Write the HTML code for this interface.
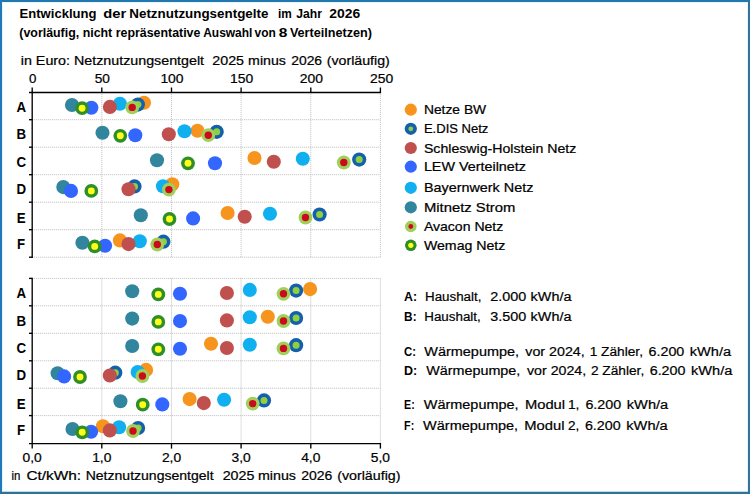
<!DOCTYPE html>
<html lang="de"><head><meta charset="utf-8"><title>Entwicklung der Netznutzungsentgelte im Jahr 2026</title>
<style>
html,body{margin:0;padding:0;background:#fff;}
body{width:750px;height:494px;overflow:hidden;font-family:"Liberation Sans",sans-serif;}
svg{display:block;}
text{font-family:"Liberation Sans",sans-serif;}
</style></head><body>
<svg width="750" height="494" viewBox="0 0 750 494">
<rect x="0" y="0" width="750" height="494" fill="#2a76ad"/>
<rect x="0" y="0" width="750" height="2" fill="#2277ae"/>
<rect x="0" y="0" width="2" height="494" fill="#2178ba"/>
<rect x="748" y="0" width="2" height="494" fill="#33729c"/>
<rect x="0" y="491.8" width="750" height="2.2" fill="#2e7394"/>
<rect x="2" y="2" width="746" height="489.8" fill="#e4f6ff"/>
<rect x="3" y="3" width="744" height="487.8" fill="#ffffff"/>
<g stroke="#bcbcbc" stroke-width="1" stroke-dasharray="1 1" fill="none">
<line x1="101.8" y1="92.2" x2="101.8" y2="257.2"/>
<line x1="171.5" y1="92.2" x2="171.5" y2="257.2"/>
<line x1="241.1" y1="92.2" x2="241.1" y2="257.2"/>
<line x1="310.8" y1="92.2" x2="310.8" y2="257.2"/>
<line x1="380.4" y1="92.2" x2="380.4" y2="257.2"/>
<line x1="32.2" y1="119.7" x2="380.4" y2="119.7"/>
<line x1="32.2" y1="147.2" x2="380.4" y2="147.2"/>
<line x1="32.2" y1="174.7" x2="380.4" y2="174.7"/>
<line x1="32.2" y1="202.2" x2="380.4" y2="202.2"/>
<line x1="32.2" y1="229.7" x2="380.4" y2="229.7"/>
<line x1="32.2" y1="257.2" x2="380.4" y2="257.2"/>
<line x1="101.8" y1="278.4" x2="101.8" y2="443.1"/>
<line x1="171.5" y1="278.4" x2="171.5" y2="443.1"/>
<line x1="241.1" y1="278.4" x2="241.1" y2="443.1"/>
<line x1="310.8" y1="278.4" x2="310.8" y2="443.1"/>
<line x1="380.4" y1="278.4" x2="380.4" y2="443.1"/>
<line x1="32.2" y1="278.4" x2="380.4" y2="278.4"/>
<line x1="32.2" y1="305.8" x2="380.4" y2="305.8"/>
<line x1="32.2" y1="333.3" x2="380.4" y2="333.3"/>
<line x1="32.2" y1="360.8" x2="380.4" y2="360.8"/>
<line x1="32.2" y1="388.2" x2="380.4" y2="388.2"/>
<line x1="32.2" y1="415.6" x2="380.4" y2="415.6"/>
</g>
<g stroke="#000" stroke-width="1.35" fill="none">
<line x1="32.2" y1="87.5" x2="32.2" y2="257.9"/>
<line x1="29.000000000000004" y1="92.5" x2="381.1" y2="92.5"/>
<line x1="101.8" y1="87.5" x2="101.8" y2="92.5"/>
<line x1="171.5" y1="87.5" x2="171.5" y2="92.5"/>
<line x1="241.1" y1="87.5" x2="241.1" y2="92.5"/>
<line x1="310.8" y1="87.5" x2="310.8" y2="92.5"/>
<line x1="380.4" y1="87.5" x2="380.4" y2="92.5"/>
<line x1="29.000000000000004" y1="119.7" x2="32.2" y2="119.7"/>
<line x1="29.000000000000004" y1="147.2" x2="32.2" y2="147.2"/>
<line x1="29.000000000000004" y1="174.7" x2="32.2" y2="174.7"/>
<line x1="29.000000000000004" y1="202.2" x2="32.2" y2="202.2"/>
<line x1="29.000000000000004" y1="229.7" x2="32.2" y2="229.7"/>
<line x1="29.000000000000004" y1="257.2" x2="32.2" y2="257.2"/>
<line x1="32.2" y1="277.7" x2="32.2" y2="448.6"/>
<line x1="29.000000000000004" y1="443.6" x2="381.1" y2="443.6"/>
<line x1="101.8" y1="443.6" x2="101.8" y2="448.6"/>
<line x1="171.5" y1="443.6" x2="171.5" y2="448.6"/>
<line x1="241.1" y1="443.6" x2="241.1" y2="448.6"/>
<line x1="310.8" y1="443.6" x2="310.8" y2="448.6"/>
<line x1="380.4" y1="443.6" x2="380.4" y2="448.6"/>
<line x1="29.000000000000004" y1="278.4" x2="32.2" y2="278.4"/>
<line x1="29.000000000000004" y1="305.8" x2="32.2" y2="305.8"/>
<line x1="29.000000000000004" y1="333.3" x2="32.2" y2="333.3"/>
<line x1="29.000000000000004" y1="360.8" x2="32.2" y2="360.8"/>
<line x1="29.000000000000004" y1="388.2" x2="32.2" y2="388.2"/>
<line x1="29.000000000000004" y1="415.6" x2="32.2" y2="415.6"/>
</g>
<g>
<circle cx="144" cy="102.8" r="7.05" fill="#f7941e"/>
<circle cx="137.9" cy="104.6" r="7.10" fill="#1560ac"/><circle cx="137.9" cy="104.6" r="3.50" fill="#8fd040"/>
<circle cx="119.9" cy="103.8" r="7.05" fill="#10b0f0"/>
<circle cx="109.9" cy="106.9" r="7.05" fill="#c0504d"/>
<circle cx="72" cy="105" r="7.05" fill="#31859c"/>
<circle cx="91.4" cy="107.7" r="7.05" fill="#3366ff"/>
<circle cx="132.2" cy="107.4" r="6.90" fill="#9fd05a"/><circle cx="132.2" cy="107.4" r="3.70" fill="#cc0a1e"/>
<circle cx="82.1" cy="108.2" r="6.90" fill="#2e8f28"/><circle cx="82.1" cy="108.2" r="3.45" fill="#ffff1a"/>
<circle cx="197.5" cy="130.8" r="7.05" fill="#f7941e"/>
<circle cx="216.7" cy="131.8" r="7.10" fill="#1560ac"/><circle cx="216.7" cy="131.8" r="3.50" fill="#8fd040"/>
<circle cx="184.5" cy="131.3" r="7.05" fill="#10b0f0"/>
<circle cx="168.8" cy="134.3" r="7.05" fill="#c0504d"/>
<circle cx="102.5" cy="132.7" r="7.05" fill="#31859c"/>
<circle cx="135.3" cy="135.2" r="7.05" fill="#3366ff"/>
<circle cx="208.3" cy="135.2" r="6.90" fill="#9fd05a"/><circle cx="208.3" cy="135.2" r="3.70" fill="#cc0a1e"/>
<circle cx="120.3" cy="135.8" r="6.90" fill="#2e8f28"/><circle cx="120.3" cy="135.8" r="3.45" fill="#ffff1a"/>
<circle cx="254.5" cy="158" r="7.05" fill="#f7941e"/>
<circle cx="359.2" cy="159.6" r="7.10" fill="#1560ac"/><circle cx="359.2" cy="159.6" r="3.50" fill="#8fd040"/>
<circle cx="302.8" cy="158.8" r="7.05" fill="#10b0f0"/>
<circle cx="273.8" cy="161.7" r="7.05" fill="#c0504d"/>
<circle cx="157" cy="160.2" r="7.05" fill="#31859c"/>
<circle cx="215" cy="163.3" r="7.05" fill="#3366ff"/>
<circle cx="343.8" cy="162.5" r="6.90" fill="#9fd05a"/><circle cx="343.8" cy="162.5" r="3.70" fill="#cc0a1e"/>
<circle cx="188" cy="163.3" r="6.90" fill="#2e8f28"/><circle cx="188" cy="163.3" r="3.45" fill="#ffff1a"/>
<circle cx="172.3" cy="184.3" r="7.05" fill="#f7941e"/>
<circle cx="134.5" cy="186.4" r="7.10" fill="#1560ac"/><circle cx="134.5" cy="186.4" r="3.50" fill="#8fd040"/>
<circle cx="163" cy="186.2" r="7.05" fill="#10b0f0"/>
<circle cx="128.5" cy="189.2" r="7.05" fill="#c0504d"/>
<circle cx="63.3" cy="187.1" r="7.05" fill="#31859c"/>
<circle cx="71" cy="190.9" r="7.05" fill="#3366ff"/>
<circle cx="168.9" cy="189.6" r="6.90" fill="#9fd05a"/><circle cx="168.9" cy="189.6" r="3.70" fill="#cc0a1e"/>
<circle cx="91.3" cy="190.9" r="6.90" fill="#2e8f28"/><circle cx="91.3" cy="190.9" r="3.45" fill="#ffff1a"/>
<circle cx="227.6" cy="213" r="7.05" fill="#f7941e"/>
<circle cx="319.6" cy="214.5" r="7.10" fill="#1560ac"/><circle cx="319.6" cy="214.5" r="3.50" fill="#8fd040"/>
<circle cx="270" cy="213.7" r="7.05" fill="#10b0f0"/>
<circle cx="244.7" cy="216.7" r="7.05" fill="#c0504d"/>
<circle cx="140.8" cy="215.3" r="7.05" fill="#31859c"/>
<circle cx="193.1" cy="218.4" r="7.05" fill="#3366ff"/>
<circle cx="305.5" cy="217.5" r="6.90" fill="#9fd05a"/><circle cx="305.5" cy="217.5" r="3.70" fill="#cc0a1e"/>
<circle cx="169.5" cy="219" r="6.90" fill="#2e8f28"/><circle cx="169.5" cy="219" r="3.45" fill="#ffff1a"/>
<circle cx="119.9" cy="240.4" r="7.05" fill="#f7941e"/>
<circle cx="163.4" cy="241.7" r="7.10" fill="#1560ac"/><circle cx="163.4" cy="241.7" r="3.50" fill="#8fd040"/>
<circle cx="139.8" cy="241.3" r="7.05" fill="#10b0f0"/>
<circle cx="128.5" cy="244.1" r="7.05" fill="#c0504d"/>
<circle cx="82.4" cy="242.7" r="7.05" fill="#31859c"/>
<circle cx="105.1" cy="245.8" r="7.05" fill="#3366ff"/>
<circle cx="157.3" cy="244.5" r="6.90" fill="#9fd05a"/><circle cx="157.3" cy="244.5" r="3.70" fill="#cc0a1e"/>
<circle cx="94.7" cy="246.4" r="6.90" fill="#2e8f28"/><circle cx="94.7" cy="246.4" r="3.45" fill="#ffff1a"/>
<circle cx="310.1" cy="289.1" r="7.05" fill="#f7941e"/>
<circle cx="296.1" cy="290.6" r="7.10" fill="#1560ac"/><circle cx="296.1" cy="290.6" r="3.50" fill="#8fd040"/>
<circle cx="249.8" cy="289.9" r="7.05" fill="#10b0f0"/>
<circle cx="226.9" cy="293" r="7.05" fill="#c0504d"/>
<circle cx="132.2" cy="291.2" r="7.05" fill="#31859c"/>
<circle cx="180" cy="293.8" r="7.05" fill="#3366ff"/>
<circle cx="283.5" cy="293.8" r="6.90" fill="#9fd05a"/><circle cx="283.5" cy="293.8" r="3.70" fill="#cc0a1e"/>
<circle cx="158.3" cy="294.4" r="6.90" fill="#2e8f28"/><circle cx="158.3" cy="294.4" r="3.45" fill="#ffff1a"/>
<circle cx="267.8" cy="316.7" r="7.05" fill="#f7941e"/>
<circle cx="296.1" cy="318" r="7.10" fill="#1560ac"/><circle cx="296.1" cy="318" r="3.50" fill="#8fd040"/>
<circle cx="249.8" cy="317.3" r="7.05" fill="#10b0f0"/>
<circle cx="226.9" cy="320.4" r="7.05" fill="#c0504d"/>
<circle cx="132.2" cy="318.6" r="7.05" fill="#31859c"/>
<circle cx="180" cy="321.1" r="7.05" fill="#3366ff"/>
<circle cx="283.5" cy="321" r="6.90" fill="#9fd05a"/><circle cx="283.5" cy="321" r="3.70" fill="#cc0a1e"/>
<circle cx="158.3" cy="321.9" r="6.90" fill="#2e8f28"/><circle cx="158.3" cy="321.9" r="3.45" fill="#ffff1a"/>
<circle cx="211" cy="343.7" r="7.05" fill="#f7941e"/>
<circle cx="296.1" cy="345.2" r="7.10" fill="#1560ac"/><circle cx="296.1" cy="345.2" r="3.50" fill="#8fd040"/>
<circle cx="249.8" cy="344.7" r="7.05" fill="#10b0f0"/>
<circle cx="226.9" cy="348" r="7.05" fill="#c0504d"/>
<circle cx="132.2" cy="346" r="7.05" fill="#31859c"/>
<circle cx="180" cy="348.8" r="7.05" fill="#3366ff"/>
<circle cx="283.5" cy="348.4" r="6.90" fill="#9fd05a"/><circle cx="283.5" cy="348.4" r="3.70" fill="#cc0a1e"/>
<circle cx="158.3" cy="349.3" r="6.90" fill="#2e8f28"/><circle cx="158.3" cy="349.3" r="3.45" fill="#ffff1a"/>
<circle cx="146.1" cy="369.9" r="7.05" fill="#f7941e"/>
<circle cx="115.3" cy="372.7" r="7.10" fill="#1560ac"/><circle cx="115.3" cy="372.7" r="3.50" fill="#8fd040"/>
<circle cx="137.7" cy="372.1" r="7.05" fill="#10b0f0"/>
<circle cx="109.8" cy="375.5" r="7.05" fill="#c0504d"/>
<circle cx="57.6" cy="373.3" r="7.05" fill="#31859c"/>
<circle cx="64.1" cy="376.4" r="7.05" fill="#3366ff"/>
<circle cx="142.4" cy="376" r="6.90" fill="#9fd05a"/><circle cx="142.4" cy="376" r="3.70" fill="#cc0a1e"/>
<circle cx="80" cy="377" r="6.90" fill="#2e8f28"/><circle cx="80" cy="377" r="3.45" fill="#ffff1a"/>
<circle cx="189.6" cy="399.1" r="7.05" fill="#f7941e"/>
<circle cx="264" cy="400.4" r="7.10" fill="#1560ac"/><circle cx="264" cy="400.4" r="3.50" fill="#8fd040"/>
<circle cx="224.1" cy="399.7" r="7.05" fill="#10b0f0"/>
<circle cx="203.8" cy="403.1" r="7.05" fill="#c0504d"/>
<circle cx="120.4" cy="401.2" r="7.05" fill="#31859c"/>
<circle cx="162.3" cy="404.4" r="7.05" fill="#3366ff"/>
<circle cx="252.7" cy="403.6" r="6.90" fill="#9fd05a"/><circle cx="252.7" cy="403.6" r="3.70" fill="#cc0a1e"/>
<circle cx="142.7" cy="404.7" r="6.90" fill="#2e8f28"/><circle cx="142.7" cy="404.7" r="3.45" fill="#ffff1a"/>
<circle cx="102.9" cy="426.2" r="7.05" fill="#f7941e"/>
<circle cx="138.1" cy="428" r="7.10" fill="#1560ac"/><circle cx="138.1" cy="428" r="3.50" fill="#8fd040"/>
<circle cx="119.1" cy="427.3" r="7.05" fill="#10b0f0"/>
<circle cx="109.8" cy="430.4" r="7.05" fill="#c0504d"/>
<circle cx="72.5" cy="429" r="7.05" fill="#31859c"/>
<circle cx="91.1" cy="431.8" r="7.05" fill="#3366ff"/>
<circle cx="133" cy="431" r="6.90" fill="#9fd05a"/><circle cx="133" cy="431" r="3.70" fill="#cc0a1e"/>
<circle cx="82.2" cy="432.3" r="6.90" fill="#2e8f28"/><circle cx="82.2" cy="432.3" r="3.45" fill="#ffff1a"/>
</g>
<circle cx="410.8" cy="109.7" r="6.1" fill="#f7941e"/>
<circle cx="410.8" cy="128.8" r="6.1" fill="#1560ac"/><circle cx="410.8" cy="128.8" r="2.4" fill="#8fd040"/>
<circle cx="410.8" cy="148" r="6.1" fill="#c0504d"/>
<circle cx="410.8" cy="166.7" r="6.1" fill="#3366ff"/>
<circle cx="410.8" cy="187.8" r="6.1" fill="#10b0f0"/>
<circle cx="410.8" cy="207.3" r="6.1" fill="#31859c"/>
<circle cx="410.8" cy="226.5" r="5.8" fill="#9fd05a"/><circle cx="410.8" cy="226.5" r="2.4" fill="#cc0a1e"/>
<circle cx="410.8" cy="245.3" r="5.8" fill="#2e8f28"/><circle cx="410.8" cy="245.3" r="2.6" fill="#ffff1a"/>
<g font-family="'Liberation Sans', sans-serif" fill="#000">
<text x="423.9" y="114.2" font-size="12.9" stroke="#000" stroke-width="0.22" textLength="62.3" lengthAdjust="spacingAndGlyphs">Netze BW</text>
<text x="423.9" y="133.4" font-size="12.9" stroke="#000" stroke-width="0.22" textLength="64.5" lengthAdjust="spacingAndGlyphs">E.DIS Netz</text>
<text x="423.9" y="152.6" font-size="12.9" stroke="#000" stroke-width="0.22" textLength="152.4" lengthAdjust="spacingAndGlyphs">Schleswig-Holstein Netz</text>
<text x="423.9" y="171.2" font-size="12.9" stroke="#000" stroke-width="0.22" textLength="102.1" lengthAdjust="spacingAndGlyphs">LEW Verteilnetz</text>
<text x="423.9" y="192.3" font-size="12.9" stroke="#000" stroke-width="0.22" textLength="109.5" lengthAdjust="spacingAndGlyphs">Bayernwerk Netz</text>
<text x="423.9" y="211.7" font-size="12.9" stroke="#000" stroke-width="0.22" textLength="91.5" lengthAdjust="spacingAndGlyphs">Mitnetz Strom</text>
<text x="423.9" y="230.7" font-size="12.9" stroke="#000" stroke-width="0.22" textLength="79.4" lengthAdjust="spacingAndGlyphs">Avacon Netz</text>
<text x="423.9" y="249.5" font-size="12.9" stroke="#000" stroke-width="0.22" textLength="81.5" lengthAdjust="spacingAndGlyphs">Wemag Netz</text>
<text x="19.6" y="18.3" font-size="13.5" font-weight="bold" textLength="76.9" lengthAdjust="spacingAndGlyphs">Entwicklung</text>
<text x="103.3" y="18.3" font-size="13.5" font-weight="bold" textLength="23.0" lengthAdjust="spacingAndGlyphs">der</text>
<text x="129.3" y="18.3" font-size="13.5" font-weight="bold" textLength="139.1" lengthAdjust="spacingAndGlyphs">Netznutzungsentgelte</text>
<text x="278.0" y="18.3" font-size="13.5" font-weight="bold" textLength="13.8" lengthAdjust="spacingAndGlyphs">im</text>
<text x="296.3" y="18.3" font-size="13.5" font-weight="bold" textLength="25.7" lengthAdjust="spacingAndGlyphs">Jahr</text>
<text x="329.2" y="18.3" font-size="13.5" font-weight="bold" textLength="31.0" lengthAdjust="spacingAndGlyphs">2026</text>
<text x="19.3" y="37.3" font-size="12.5" font-weight="bold" textLength="181.1" lengthAdjust="spacingAndGlyphs">(vorläufig, nicht repräsentative</text>
<text x="203.2" y="37.3" font-size="12.5" font-weight="bold" textLength="49.2" lengthAdjust="spacingAndGlyphs">Auswahl</text>
<text x="254.5" y="37.3" font-size="12.5" font-weight="bold" textLength="21.3" lengthAdjust="spacingAndGlyphs">von</text>
<text x="278.8" y="37.3" font-size="12.5" font-weight="bold" textLength="8.6" lengthAdjust="spacingAndGlyphs">8</text>
<text x="289.9" y="37.3" font-size="12.5" font-weight="bold" textLength="82.0" lengthAdjust="spacingAndGlyphs">Verteilnetzen)</text>
<text x="20.8" y="64.6" font-size="12.8" stroke="#000" stroke-width="0.22" textLength="183.3" lengthAdjust="spacingAndGlyphs">in Euro: Netznutzungsentgelt</text>
<text x="212.3" y="64.6" font-size="12.8" stroke="#000" stroke-width="0.22" textLength="31.7" lengthAdjust="spacingAndGlyphs">2025</text>
<text x="248.1" y="64.6" font-size="12.8" stroke="#000" stroke-width="0.22" textLength="37.8" lengthAdjust="spacingAndGlyphs">minus</text>
<text x="291.2" y="64.6" font-size="12.8" stroke="#000" stroke-width="0.22" textLength="30.9" lengthAdjust="spacingAndGlyphs">2026</text>
<text x="326.8" y="64.6" font-size="12.8" stroke="#000" stroke-width="0.22" textLength="63.0" lengthAdjust="spacingAndGlyphs">(vorläufig)</text>
<text x="29.0" y="83.4" font-size="13.1" stroke="#000" stroke-width="0.22" textLength="7.4" lengthAdjust="spacingAndGlyphs">0</text>
<text x="94.7" y="83.4" font-size="13.1" stroke="#000" stroke-width="0.22" textLength="15.2" lengthAdjust="spacingAndGlyphs">50</text>
<text x="160.4" y="83.4" font-size="13.1" stroke="#000" stroke-width="0.22" textLength="23.2" lengthAdjust="spacingAndGlyphs">100</text>
<text x="230.0" y="83.4" font-size="13.1" stroke="#000" stroke-width="0.22" textLength="23.2" lengthAdjust="spacingAndGlyphs">150</text>
<text x="299.7" y="83.4" font-size="13.1" stroke="#000" stroke-width="0.22" textLength="23.2" lengthAdjust="spacingAndGlyphs">200</text>
<text x="370.1" y="83.4" font-size="13.1" stroke="#000" stroke-width="0.22" textLength="23.2" lengthAdjust="spacingAndGlyphs">250</text>
<text x="22.6" y="462.1" font-size="13.4" stroke="#000" stroke-width="0.22" textLength="19.2" lengthAdjust="spacingAndGlyphs">0,0</text>
<text x="92.2" y="462.1" font-size="13.4" stroke="#000" stroke-width="0.22" textLength="19.2" lengthAdjust="spacingAndGlyphs">1,0</text>
<text x="161.9" y="462.1" font-size="13.4" stroke="#000" stroke-width="0.22" textLength="19.2" lengthAdjust="spacingAndGlyphs">2,0</text>
<text x="231.5" y="462.1" font-size="13.4" stroke="#000" stroke-width="0.22" textLength="19.2" lengthAdjust="spacingAndGlyphs">3,0</text>
<text x="301.2" y="462.1" font-size="13.4" stroke="#000" stroke-width="0.22" textLength="19.2" lengthAdjust="spacingAndGlyphs">4,0</text>
<text x="370.8" y="462.1" font-size="13.4" stroke="#000" stroke-width="0.22" textLength="19.2" lengthAdjust="spacingAndGlyphs">5,0</text>
<text x="11.5" y="479.8" font-size="12.8" stroke="#000" stroke-width="0.22" textLength="8.9" lengthAdjust="spacingAndGlyphs">in</text>
<text x="26.4" y="479.8" font-size="12.8" stroke="#000" stroke-width="0.22" textLength="54.7" lengthAdjust="spacingAndGlyphs">Ct/kWh:</text>
<text x="85.7" y="479.8" font-size="12.8" stroke="#000" stroke-width="0.22" textLength="127.9" lengthAdjust="spacingAndGlyphs">Netznutzungsentgelt</text>
<text x="222.7" y="479.8" font-size="12.8" stroke="#000" stroke-width="0.22" textLength="31.7" lengthAdjust="spacingAndGlyphs">2025</text>
<text x="258.0" y="479.8" font-size="12.8" stroke="#000" stroke-width="0.22" textLength="38.0" lengthAdjust="spacingAndGlyphs">minus</text>
<text x="301.2" y="479.8" font-size="12.8" stroke="#000" stroke-width="0.22" textLength="31.2" lengthAdjust="spacingAndGlyphs">2026</text>
<text x="337.2" y="479.8" font-size="12.8" stroke="#000" stroke-width="0.22" textLength="63.3" lengthAdjust="spacingAndGlyphs">(vorläufig)</text>
<text x="16.4" y="111.5" font-size="14.3" font-weight="bold" textLength="9.6" lengthAdjust="spacingAndGlyphs">A</text>
<text x="16.4" y="297.6" font-size="14.3" font-weight="bold" textLength="9.6" lengthAdjust="spacingAndGlyphs">A</text>
<text x="16.4" y="139.3" font-size="14.3" font-weight="bold" textLength="9.6" lengthAdjust="spacingAndGlyphs">B</text>
<text x="16.4" y="325.5" font-size="14.3" font-weight="bold" textLength="9.6" lengthAdjust="spacingAndGlyphs">B</text>
<text x="16.4" y="166.6" font-size="14.3" font-weight="bold" textLength="9.6" lengthAdjust="spacingAndGlyphs">C</text>
<text x="16.4" y="352.7" font-size="14.3" font-weight="bold" textLength="9.6" lengthAdjust="spacingAndGlyphs">C</text>
<text x="16.4" y="194.0" font-size="14.3" font-weight="bold" textLength="9.6" lengthAdjust="spacingAndGlyphs">D</text>
<text x="16.4" y="380.1" font-size="14.3" font-weight="bold" textLength="9.6" lengthAdjust="spacingAndGlyphs">D</text>
<text x="16.8" y="222.9" font-size="14.3" font-weight="bold" textLength="8.9" lengthAdjust="spacingAndGlyphs">E</text>
<text x="16.8" y="408.9" font-size="14.3" font-weight="bold" textLength="8.9" lengthAdjust="spacingAndGlyphs">E</text>
<text x="17.1" y="249.0" font-size="14.3" font-weight="bold" textLength="8.1" lengthAdjust="spacingAndGlyphs">F</text>
<text x="17.1" y="435.0" font-size="14.3" font-weight="bold" textLength="8.1" lengthAdjust="spacingAndGlyphs">F</text>
<text x="404.1" y="301.2" font-size="13.7" font-weight="bold" textLength="13.0" lengthAdjust="spacingAndGlyphs">A:</text>
<text x="425.0" y="301.2" font-size="13.7" stroke="#000" stroke-width="0.22" textLength="56.4" lengthAdjust="spacingAndGlyphs">Haushalt,</text>
<text x="490.3" y="301.2" font-size="13.7" stroke="#000" stroke-width="0.22" textLength="36.0" lengthAdjust="spacingAndGlyphs">2.000</text>
<text x="530.6" y="301.2" font-size="13.7" stroke="#000" stroke-width="0.22" textLength="40.8" lengthAdjust="spacingAndGlyphs">kWh/a</text>
<text x="404.1" y="320.8" font-size="13.7" font-weight="bold" textLength="12.5" lengthAdjust="spacingAndGlyphs">B:</text>
<text x="424.3" y="320.8" font-size="13.7" stroke="#000" stroke-width="0.22" textLength="56.4" lengthAdjust="spacingAndGlyphs">Haushalt,</text>
<text x="490.3" y="320.8" font-size="13.7" stroke="#000" stroke-width="0.22" textLength="36.0" lengthAdjust="spacingAndGlyphs">3.500</text>
<text x="530.6" y="320.8" font-size="13.7" stroke="#000" stroke-width="0.22" textLength="40.8" lengthAdjust="spacingAndGlyphs">kWh/a</text>
<text x="404.1" y="355.7" font-size="13.7" font-weight="bold" textLength="12.0" lengthAdjust="spacingAndGlyphs">C:</text>
<text x="424.3" y="355.7" font-size="13.7" stroke="#000" stroke-width="0.22" textLength="94.8" lengthAdjust="spacingAndGlyphs">Wärmepumpe,</text>
<text x="525.3" y="355.7" font-size="13.7" stroke="#000" stroke-width="0.22" textLength="59.4" lengthAdjust="spacingAndGlyphs">vor 2024,</text>
<text x="589.7" y="355.7" font-size="13.7" stroke="#000" stroke-width="0.22" textLength="53.3" lengthAdjust="spacingAndGlyphs">1 Zähler,</text>
<text x="648.5" y="355.7" font-size="13.7" stroke="#000" stroke-width="0.22" textLength="35.8" lengthAdjust="spacingAndGlyphs">6.200</text>
<text x="689.8" y="355.7" font-size="13.7" stroke="#000" stroke-width="0.22" textLength="41.3" lengthAdjust="spacingAndGlyphs">kWh/a</text>
<text x="404.1" y="375.0" font-size="13.7" font-weight="bold" textLength="13.2" lengthAdjust="spacingAndGlyphs">D:</text>
<text x="426.2" y="375.0" font-size="13.7" stroke="#000" stroke-width="0.22" textLength="94.1" lengthAdjust="spacingAndGlyphs">Wärmepumpe,</text>
<text x="527.0" y="375.0" font-size="13.7" stroke="#000" stroke-width="0.22" textLength="59.2" lengthAdjust="spacingAndGlyphs">vor 2024,</text>
<text x="590.9" y="375.0" font-size="13.7" stroke="#000" stroke-width="0.22" textLength="53.3" lengthAdjust="spacingAndGlyphs">2 Zähler,</text>
<text x="649.7" y="375.0" font-size="13.7" stroke="#000" stroke-width="0.22" textLength="35.8" lengthAdjust="spacingAndGlyphs">6.200</text>
<text x="691.0" y="375.0" font-size="13.7" stroke="#000" stroke-width="0.22" textLength="41.3" lengthAdjust="spacingAndGlyphs">kWh/a</text>
<text x="404.1" y="409.2" font-size="13.7" font-weight="bold" textLength="10.6" lengthAdjust="spacingAndGlyphs">E:</text>
<text x="423.8" y="409.2" font-size="13.7" stroke="#000" stroke-width="0.22" textLength="94.8" lengthAdjust="spacingAndGlyphs">Wärmepumpe,</text>
<text x="524.9" y="409.2" font-size="13.7" stroke="#000" stroke-width="0.22" textLength="40.2" lengthAdjust="spacingAndGlyphs">Modul</text>
<text x="567.9" y="409.2" font-size="13.7" stroke="#000" stroke-width="0.22" textLength="11.5" lengthAdjust="spacingAndGlyphs">1,</text>
<text x="585.4" y="409.2" font-size="13.7" stroke="#000" stroke-width="0.22" textLength="35.8" lengthAdjust="spacingAndGlyphs">6.200</text>
<text x="626.8" y="409.2" font-size="13.7" stroke="#000" stroke-width="0.22" textLength="41.4" lengthAdjust="spacingAndGlyphs">kWh/a</text>
<text x="404.1" y="429.6" font-size="13.7" font-weight="bold" textLength="10.1" lengthAdjust="spacingAndGlyphs">F:</text>
<text x="423.1" y="429.6" font-size="13.7" stroke="#000" stroke-width="0.22" textLength="95.0" lengthAdjust="spacingAndGlyphs">Wärmepumpe,</text>
<text x="524.3" y="429.6" font-size="13.7" stroke="#000" stroke-width="0.22" textLength="40.2" lengthAdjust="spacingAndGlyphs">Modul</text>
<text x="567.9" y="429.6" font-size="13.7" stroke="#000" stroke-width="0.22" textLength="11.3" lengthAdjust="spacingAndGlyphs">2,</text>
<text x="584.9" y="429.6" font-size="13.7" stroke="#000" stroke-width="0.22" textLength="35.8" lengthAdjust="spacingAndGlyphs">6.200</text>
<text x="626.3" y="429.6" font-size="13.7" stroke="#000" stroke-width="0.22" textLength="41.4" lengthAdjust="spacingAndGlyphs">kWh/a</text>
</g>
</svg>
</body></html>
